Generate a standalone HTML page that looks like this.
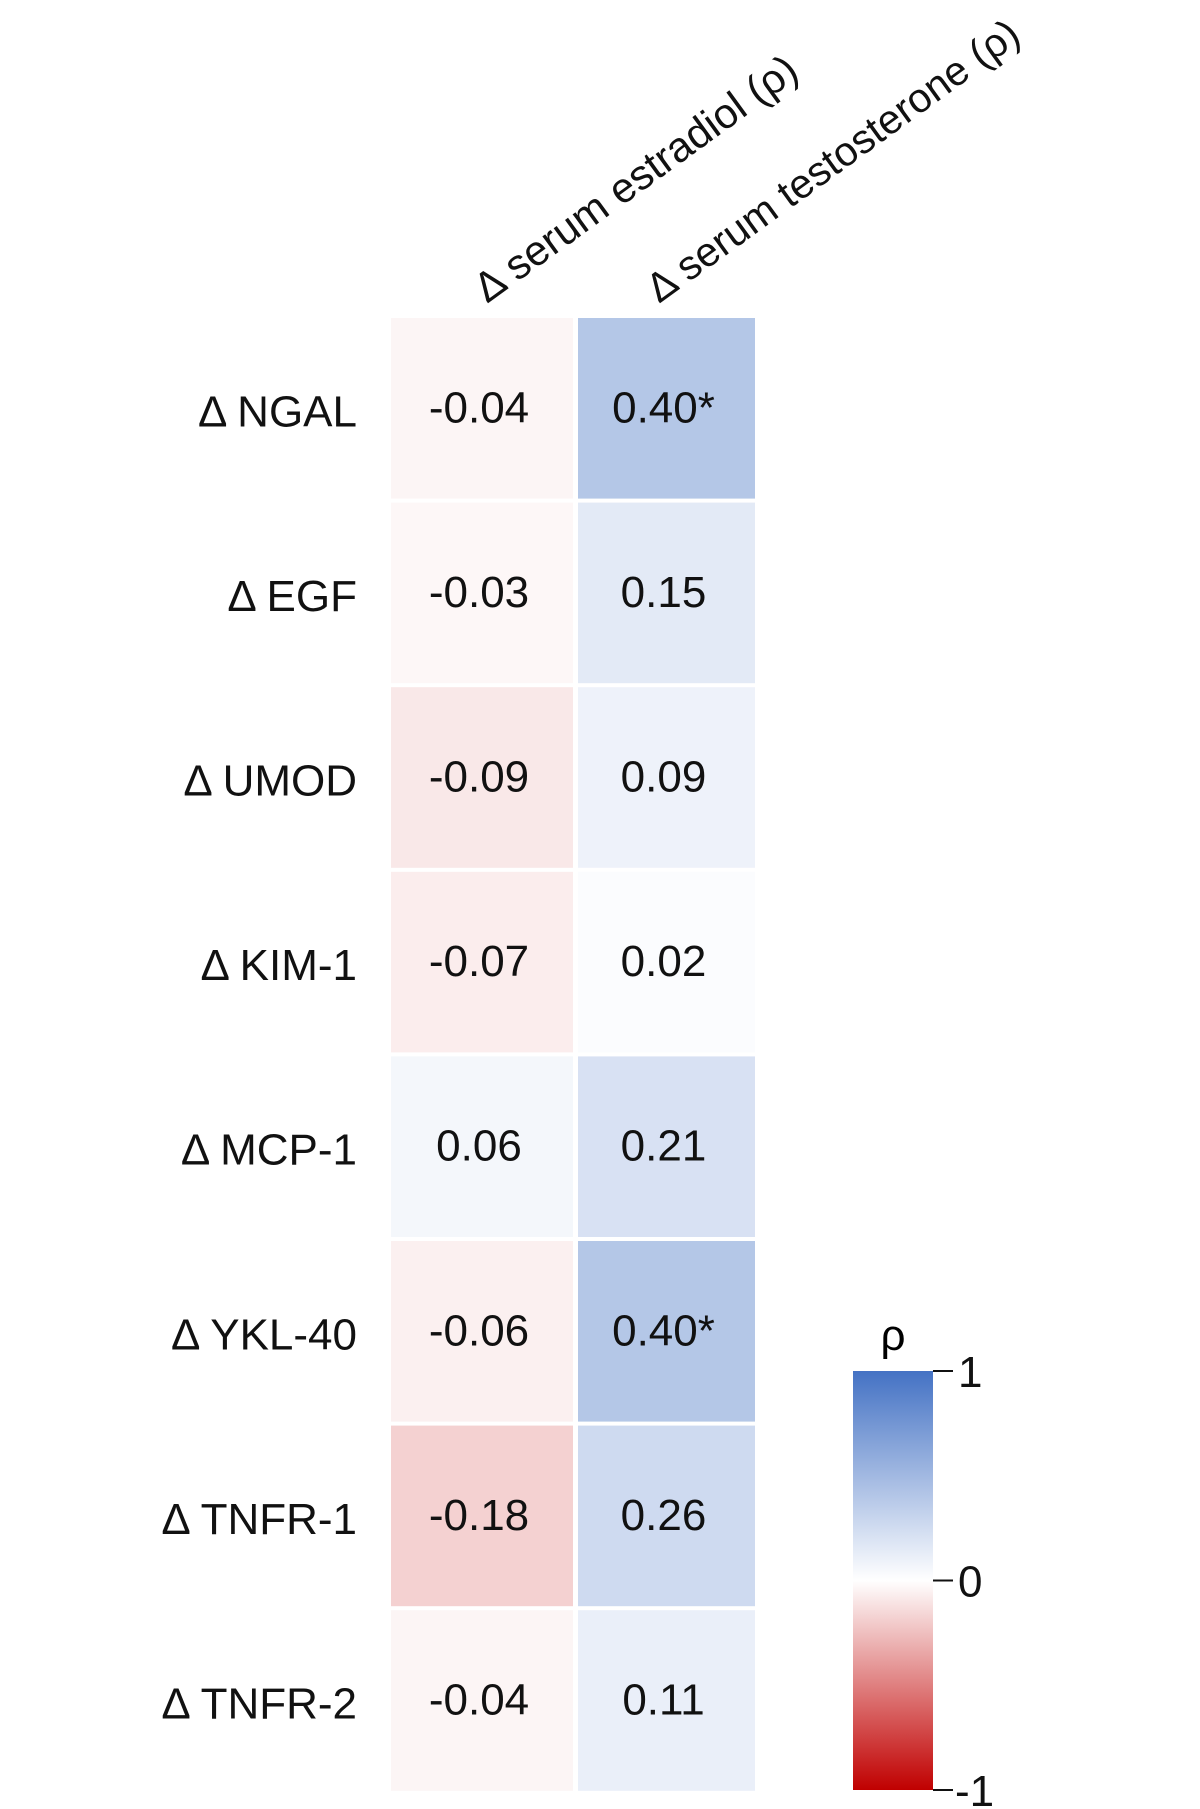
<!DOCTYPE html>
<html><head><meta charset="utf-8"><style>
html,body{margin:0;padding:0;background:#fff;}
svg{display:block;font-family:"Liberation Sans",Arial,sans-serif;}
</style></head><body>
<svg id="chart" width="1200" height="1809" viewBox="0 0 1200 1809" xmlns="http://www.w3.org/2000/svg">
<defs>
<linearGradient id="cbgrad" x1="0" y1="0" x2="0" y2="1">
<stop offset="0" stop-color="#4472c4"/>
<stop offset="0.5" stop-color="#ffffff"/>
<stop offset="1" stop-color="#c00000"/>
</linearGradient>
</defs>
<g id="cells"></g>
<g id="labels"></g>
<g id="legend">
<rect x="853" y="1371" width="80" height="419" fill="url(#cbgrad)"/>
<text x="893" y="1350" font-size="44" text-anchor="middle">ρ</text>
</g>
</svg>
<script>
const rows = ["Δ NGAL","Δ EGF","Δ UMOD","Δ KIM-1","Δ MCP-1","Δ YKL-40","Δ TNFR-1","Δ TNFR-2"];
const cols = ["Δ serum estradiol (ρ)","Δ serum testosterone (ρ)"];
const estradiol = [-0.04,-0.03,-0.09,-0.07,0.06,-0.06,-0.18,-0.04];
const testosterone = [0.40,0.15,0.09,0.02,0.21,0.40,0.26,0.11];
const sigEstradiol = [false,false,false,false,false,false,false,false];
const sigTestosterone = [true,false,false,false,false,true,false,false];
const legendTicks = [1,0,-1];

const NS="http://www.w3.org/2000/svg";
const gC=document.getElementById('cells'), gL=document.getElementById('labels'), gLeg=document.getElementById('legend');
const y0=318, rh=184.6, gap=4;
const colX=[391,578], colW=[182,177];
const yPos=j=>y0+j*rh;
const cbTop=1371, cbBot=1790;
const cbY=v=>cbTop+(1-v)/2*(cbBot-cbTop);
function color(v){
  const t=Math.min(1,Math.abs(v));
  const c=v>=0?[68,114,196]:[192,0,0];
  return 'rgb('+c.map(k=>Math.round(255-t*(255-k))).join(',')+')';
}
function el(tag,attrs,parent,txt){const e=document.createElementNS(NS,tag);for(const k in attrs)e.setAttribute(k,attrs[k]);if(txt!==undefined)e.textContent=txt;parent.appendChild(e);return e;}
const series=[estradiol,testosterone], sigs=[sigEstradiol,sigTestosterone];
series.forEach((vals,i)=>{
  vals.forEach((v,j)=>{
    const r=el('rect',{x:colX[i],y:yPos(j),width:colW[i],height:rh-gap,fill:color(v)},gC);
    
    
    const s=(v<0?'-':'')+Math.abs(v).toFixed(2)+(sigs[i][j]?'*':'');
    const t=el('text',{x:colX[i]+colW[i]/2-3,y:yPos(j)+(rh-gap)/2+14,'font-size':44,'text-anchor':'middle',fill:'#111'},gC,s);
    
    
  });
});
rows.forEach((r,j)=>{
  const t=el('text',{x:357,y:yPos(j)+(rh-gap)/2+18,'font-size':44,'text-anchor':'end',fill:'#111'},gL,r);
  
  
});
const hx=[487,659], hs=[42,41];
cols.forEach((c,i)=>{
  const t=el('text',{x:hx[i],y:304,'font-size':hs[i],transform:'rotate(-36 '+hx[i]+' 304)',fill:'#111'},gL,c);
  
  
});
legendTicks.forEach(v=>{
  const y=cbY(v);
  const l=el('line',{x1:933,x2:953,y1:y,y2:y,stroke:'#111','stroke-width':2},gLeg);
  
  
  const t=el('text',{x:v<0?955:958,y:y+16,'font-size':44,fill:'#111'},gLeg,String(v));
  
  
});
</script>
</body></html>
